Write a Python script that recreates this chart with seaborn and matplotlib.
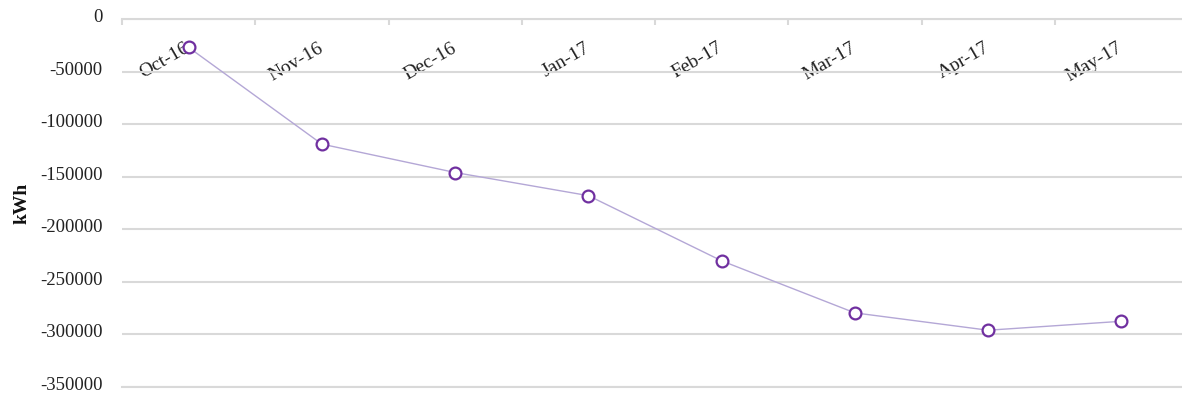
import numpy as np
import pandas as pd
import matplotlib
matplotlib.use("Agg")
import matplotlib.pyplot as plt
import matplotlib.transforms as mtransforms
import seaborn as sns

months = ["Oct-16", "Nov-16", "Dec-16", "Jan-17", "Feb-17", "Mar-17", "Apr-17", "May-17"]
energy_kwh = [-27000, -119000, -146000, -168000, -230000, -279500, -296000, -287500]
y_ticks = [0, -50000, -100000, -150000, -200000, -250000, -300000, -350000]

sns.set_theme(style="white")
plt.rcParams["font.family"] = ["Liberation Serif", "DejaVu Serif"]

grid_color = "#d9d9d9"

fig = plt.figure(figsize=(11.82, 3.94), dpi=100)
ax = fig.add_axes([122 / 1182, 1 - 387 / 394, (1188 - 122) / 1182, (387 - 19) / 394])

df = pd.DataFrame({"month": months, "kwh": energy_kwh})
sns.lineplot(
    data=df, x="month", y="kwh", sort=False, ax=ax,
    color="#b4a7d6", linewidth=1.0,
    marker="o", markersize=8.5, markerfacecolor="white",
    markeredgecolor="#7030a0", markeredgewidth=1.6,
)

ax.set_xlim(-0.5, len(months) - 0.5)
ax.set_ylim(-350000, 0)
ax.set_yticks(y_ticks)
ax.set_yticklabels([str(v) for v in y_ticks], fontsize=13.5, color="#222222")
ax.yaxis.grid(True, color=grid_color, linewidth=1.5)
ax.set_axisbelow(True)

for side in ["left", "right"]:
    ax.spines[side].set_visible(False)
for side in ["top", "bottom"]:
    ax.spines[side].set_color(grid_color)
    ax.spines[side].set_linewidth(1.5)

# category labels sit just below the zero line, rotated
ax.xaxis.tick_top()
ax.set_xticks(range(len(months)))
ax.set_xticklabels(months, fontsize=14, color="#222222")
ax.tick_params(axis="x", which="major", length=0, pad=-20, top=True, labeltop=True,
               bottom=False, labelbottom=False)
for lbl in ax.get_xticklabels():
    lbl.set_rotation(30)
    lbl.set_ha("right")
    lbl.set_va("center")
    lbl.set_rotation_mode("anchor")

# small divider ticks between categories
ax.set_xticks(np.arange(-0.5, len(months), 1.0), minor=True)
ax.tick_params(axis="x", which="minor", direction="in", length=4, width=1.5,
               color=grid_color, top=True, bottom=False)
ax.tick_params(axis="y", length=0, pad=14)

# lift the value labels a touch so the lowest one stays inside the canvas
lift = mtransforms.ScaledTranslation(0, 2.5 / 72, fig.dpi_scale_trans)
for lbl in ax.get_yticklabels():
    lbl.set_transform(lbl.get_transform() + lift)

ax.set_xlabel("")
ax.set_ylabel("kWh", fontsize=14, fontweight="bold", labelpad=7, color="#111111")

fig.savefig("out.png", dpi=100)
